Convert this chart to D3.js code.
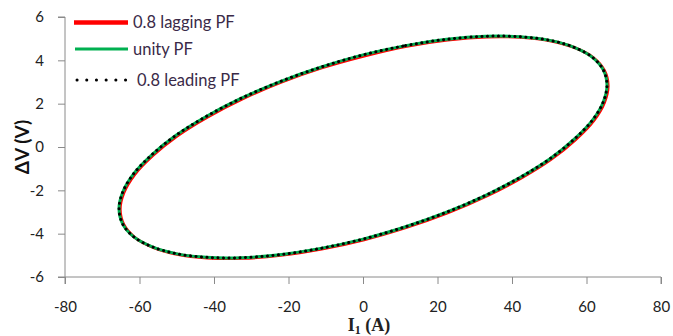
<!DOCTYPE html>
<html>
<head>
<meta charset="utf-8">
<style>
  body { margin: 0; background: #fff; }
  .axis text { font-family: Lato, "Open Sans", sans-serif; font-size: 15px; fill: #222; }
  .axis path, .axis line { stroke: #8a8a8a; }
</style>
</head>
<body>
<svg width="673" height="336"></svg>
<script src="https://d3js.org/d3.v7.min.js"></script>
<script>

// loop points (I1 in A, dV in V)
var lagging = [[0.3,4.2],[11.7,4.65],[22.7,4.94],[33.1,5.08],[42.4,5.06],[50.5,4.89],[57,4.57],[61.9,4.11],[64.8,3.53],[65.8,2.83],[64.8,2.05],[61.9,1.21],[57,0.33],[50.5,-0.57],[42.4,-1.44],[33.1,-2.27],[22.7,-3.04],[11.7,-3.71],[0.3,-4.28],[-11.1,-4.71],[-22.1,-5],[-32.5,-5.14],[-41.8,-5.12],[-49.9,-4.95],[-56.4,-4.63],[-61.3,-4.17],[-64.2,-3.59],[-65.2,-2.89],[-64.2,-2.11],[-61.3,-1.27],[-56.4,-0.39],[-49.9,0.51],[-41.8,1.38],[-32.5,2.21],[-22.1,2.98],[-11.1,3.65]];
var unity = [[0,4.25],[11.4,4.68],[22.4,4.97],[32.8,5.11],[42.1,5.09],[50.2,4.92],[56.7,4.6],[61.6,4.14],[64.5,3.56],[65.5,2.86],[64.5,2.08],[61.6,1.24],[56.7,0.36],[50.2,-0.54],[42.1,-1.41],[32.8,-2.24],[22.4,-3.01],[11.4,-3.68],[0,-4.25],[-11.4,-4.68],[-22.4,-4.97],[-32.8,-5.11],[-42.1,-5.09],[-50.2,-4.92],[-56.7,-4.6],[-61.6,-4.14],[-64.5,-3.56],[-65.5,-2.86],[-64.5,-2.08],[-61.6,-1.24],[-56.7,-0.36],[-50.2,0.54],[-42.1,1.41],[-32.8,2.24],[-22.4,3.01],[-11.4,3.68]];
var leading = [[0,4.25],[11.4,4.68],[22.4,4.97],[32.8,5.11],[42.1,5.09],[50.2,4.92],[56.7,4.6],[61.6,4.14],[64.5,3.56],[65.5,2.86],[64.5,2.08],[61.6,1.24],[56.7,0.36],[50.2,-0.54],[42.1,-1.41],[32.8,-2.24],[22.4,-3.01],[11.4,-3.68],[0,-4.25],[-11.4,-4.68],[-22.4,-4.97],[-32.8,-5.11],[-42.1,-5.09],[-50.2,-4.92],[-56.7,-4.6],[-61.6,-4.14],[-64.5,-3.56],[-65.5,-2.86],[-64.5,-2.08],[-61.6,-1.24],[-56.7,-0.36],[-50.2,0.54],[-42.1,1.41],[-32.8,2.24],[-22.4,3.01],[-11.4,3.68]];

var xTicks = [-80, -60, -40, -20, 0, 20, 40, 60, 80];
var yTicks = [-6, -4, -2, 0, 2, 4, 6];
var seriesNames = ["0.8 lagging PF", "unity PF", "0.8 leading PF"];

var svg = d3.select("svg");
var x = d3.scaleLinear().domain([-80, 80]).range([65, 661]),
    y = d3.scaleLinear().domain([-6, 6]).range([277, 17]);

svg.append("g")
    .attr("class", "axis")
    .attr("transform", "translate(0," + y(-6) + ")")
    .call(d3.axisBottom(x).tickValues(xTicks).tickFormat(String).tickSize(7).tickPadding(17))
    .call(function(g) { g.select(".domain").attr("d", "M" + x(-80) + ",7V0H" + x(80) + "V7"); });

svg.append("g")
    .attr("class", "axis")
    .attr("transform", "translate(" + x(-80) + ",0)")
    .call(d3.axisLeft(y).tickValues(yTicks).tickFormat(String).tickSize(7).tickPadding(14))
    .call(function(g) { g.select(".domain").attr("d", "M-7," + y(6) + "H0V" + y(-6) + "H-7"); });

var line = d3.line()
    .curve(d3.curveCatmullRomClosed)
    .x(function(d) { return x(d[0]); })
    .y(function(d) { return y(d[1]); });

svg.append("path")          // lagging
    .attr("d", line(lagging))
    .attr("fill", "none")
    .attr("stroke", "#ff0000")
    .attr("stroke-width", 3);
svg.append("path")          // unity
    .attr("d", line(unity))
    .attr("fill", "none")
    .attr("stroke", "#00b050")
    .attr("stroke-width", 3);
svg.append("path")          // leading
    .attr("d", line(leading))
    .attr("fill", "none")
    .attr("stroke", "#000")
    .attr("stroke-width", 3)
    .attr("stroke-linecap", "round")
    .attr("stroke-dasharray", "0.1,5.4");

// legend
var leg = svg.append("g").attr("font-family", "Lato, Open Sans, sans-serif").attr("font-size", "16.5px");
var legY = [22.5, 49, 80];
leg.append("line").attr("x1", 74).attr("x2", 128).attr("y1", legY[0]).attr("y2", legY[0])
    .attr("stroke", "#ff0000").attr("stroke-width", 4.5);
leg.append("line").attr("x1", 75).attr("x2", 128).attr("y1", legY[1]).attr("y2", legY[1])
    .attr("stroke", "#00b050").attr("stroke-width", 3);
leg.append("line").attr("x1", 77).attr("x2", 126).attr("y1", legY[2]).attr("y2", legY[2])
    .attr("stroke", "#000").attr("stroke-width", 3).attr("stroke-linecap", "round").attr("stroke-dasharray", "0.1,9.6");
leg.selectAll("text").data(seriesNames).enter().append("text")
    .attr("x", function(d, i) { return i == 2 ? 137 : 133; })
    .attr("y", function(d, i) { return legY[i]; })
    .attr("dy", "0.35em")
    .attr("fill", "#3a2a48")
    .text(function(d) { return d; });

// axis titles
var xt = svg.append("text")
    .attr("x", 369).attr("y", 331)
    .attr("text-anchor", "middle")
    .attr("font-family", "Liberation Serif, Times New Roman, serif")
    .attr("font-weight", "bold")
    .attr("font-size", "18px")
    .attr("fill", "#222");
xt.append("tspan").text("I");
xt.append("tspan").attr("font-size", "12px").attr("dy", 3).text("1");
xt.append("tspan").attr("dy", -3).text(" (A)");

svg.append("text")
    .attr("transform", "translate(29,147) rotate(-90)")
    .attr("text-anchor", "middle")
    .attr("font-family", "Lato, Open Sans, sans-serif")
    .attr("font-weight", "bold")
    .attr("font-size", "19px")
    .attr("fill", "#111")
    .text("ΔV (V)");

</script>
</body>
</html>
